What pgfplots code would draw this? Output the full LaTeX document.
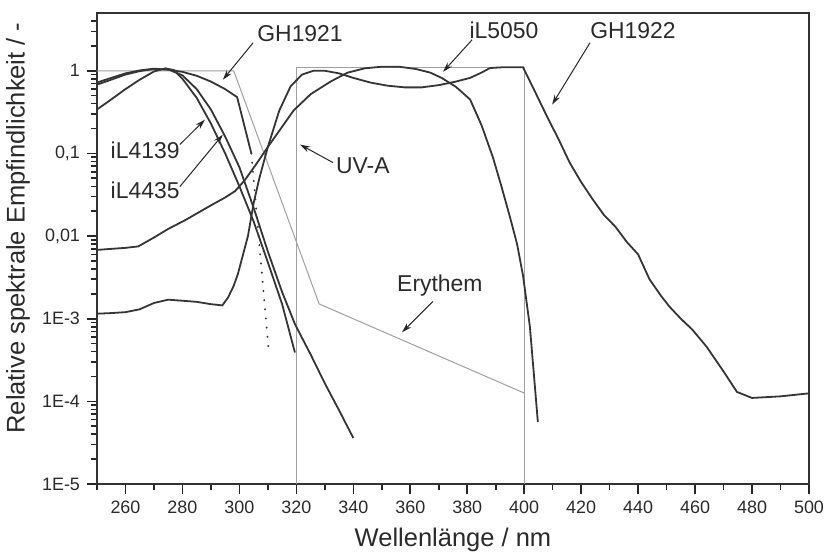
\documentclass[border=0pt]{standalone}
\usepackage{fontspec}
\setmainfont{Liberation Sans}
\usepackage{pgfplots}
\pgfplotsset{compat=1.18}
\usetikzlibrary{arrows.meta}
\definecolor{curve}{HTML}{353535}
\definecolor{lightline}{HTML}{A0A0A0}
\definecolor{txt}{HTML}{2A2A2A}
\begin{document}
\begin{tikzpicture}
\begin{axis}[
  at={(0,0)}, anchor=south west,
  scale only axis, width=356bp, height=235.5bp,
  xmin=250, xmax=500, ymode=log, ymin=1e-5, ymax=5,
  xtick={260,280,...,500}, minor xtick={250,270,...,490},
  ytick={1e-5,1e-4,1e-3,0.01,0.1,1},
  yticklabels={1E-5,1E-4,1E-3,{0,01},{0,1},1},
  minor ytick={2e-5,3e-5,4e-5,5e-5,6e-5,7e-5,8e-5,9e-5,
               2e-4,3e-4,4e-4,5e-4,6e-4,7e-4,8e-4,9e-4,
               2e-3,3e-3,4e-3,5e-3,6e-3,7e-3,8e-3,9e-3,
               0.02,0.03,0.04,0.05,0.06,0.07,0.08,0.09,
               0.2,0.3,0.4,0.5,0.6,0.7,0.8,0.9,2,3,4},
  tick align=outside, xtick pos=left, ytick pos=left,
  major tick length=5bp, minor tick length=3bp,
  tick style={black!85, line width=0.8bp},
  /pgf/number format/assume math mode=true,
  tick label style={font=\fontsize{9}{10}\selectfont, text=txt},
  axis line style={black!80, line width=0.6bp},
  xlabel={Wellenlänge / nm},
  ylabel={Relative spektrale Empfindlichkeit / -},
  every axis x label/.style={at={(axis description cs:0.5,-0.119)}, anchor=center, font=\fontsize{12.8}{14}\selectfont, text=txt},
  every axis y label/.style={at={(axis description cs:-0.111,0.5435)}, rotate=90, anchor=center, font=\fontsize{12.8}{14}\selectfont, text=txt},
]
% UV-A
\addplot[lightline, line width=0.5bp] coordinates {(320,1e-5) (320,1.1) (400,1.1) (400,1e-5)};
% Erythem
\addplot[lightline, line width=0.5bp] coordinates {(250,1) (298,1) (328,0.00151) (400,0.000126)};
% GH1921
\addplot[curve, line width=0.9bp] coordinates {
(250,0.72) (255,0.82) (260,0.93) (265,1.01) (270,1.06) (275,1.03) (280,0.97) (285,0.87) (290,0.74) (295,0.6) (299.2,0.48) (304.2,0.1)};
\addplot[curve, line width=1bp, line cap=round, dash pattern=on 0.1bp off 4.5bp] coordinates {(304.2,0.1) (310.4,3.7e-4)};
% iL4139 / iL4435
\addplot[curve, line width=0.9bp] coordinates {
(250,0.34) (255,0.45) (260,0.6) (265,0.78) (270,0.98) (274,1.07) (277,1.02) (280,0.8) (285,0.47) (290,0.23) (295,0.1) (300,0.04) (305,0.015) (310,0.0048) (315,0.0015) (319.5,3.9e-4)};
\addplot[curve, line width=0.9bp] coordinates {
(250,0.68) (255,0.78) (260,0.9) (265,0.99) (270,1.05) (275,1.04) (280,0.88) (285,0.6) (290,0.34) (295,0.16) (300,0.068) (305,0.022) (310,0.0065) (315,0.0021) (319.5,8.6e-4) (325,3.7e-4) (330,1.65e-4) (335,7.8e-5) (340,3.6e-5)};
% GH1922
\addplot[curve, line width=0.9bp] coordinates {
(250,1.15e-3) (255,1.17e-3) (260,1.2e-3) (265,1.3e-3) (270,1.55e-3) (275,1.7e-3) (280,1.65e-3) (285,1.6e-3) (290,1.5e-3) (294,1.45e-3) (296,1.8e-3) (298,2.5e-3) (299.5,3.5e-3) (301,5.5e-3) (303,0.01) (305,0.025) (307,0.05) (310,0.12) (314,0.33) (318,0.65) (322,0.9) (326,1.0) (330,1.0) (335,0.93) (340,0.82) (346,0.72) (352,0.66) (358,0.63) (364,0.63) (370,0.67) (376,0.74) (381,0.82) (385,0.95) (388,1.08) (392,1.1) (399.6,1.1) (404,0.54) (408,0.28) (412,0.15) (416,0.077) (420,0.045) (424,0.028) (428,0.018) (432,0.013) (436,0.0085) (440,0.006) (444,0.003) (448,0.0019) (451,0.0014) (455,1.0e-3) (459,7.4e-4) (464,4.6e-4) (470,2.3e-4) (474.7,1.3e-4) (480,1.1e-4) (490,1.15e-4) (500,1.25e-4)};
% iL5050
\addplot[curve, line width=0.9bp] coordinates {
(250,0.0068) (255,0.007) (260,0.0072) (264.5,0.0075) (270,0.0096) (275,0.0122) (281,0.0156) (286,0.0196) (290,0.0235) (295,0.0293) (298.5,0.035) (302,0.048) (306,0.075) (310,0.12) (315,0.21) (319,0.33) (325,0.52) (332,0.74) (338,0.95) (344,1.07) (350,1.12) (356,1.12) (362,1.05) (367,0.95) (371,0.82) (376,0.64) (381,0.45) (385,0.22) (389,0.09) (392,0.04) (395,0.017) (397.5,0.008) (399.6,0.0033) (402,8e-4) (404.8,5.6e-5)};
% annotations
\tikzset{lab/.style={font=\fontsize{11.5}{13}\selectfont, text=txt, inner sep=0pt},
         arr/.style={black!85, line width=0.5bp, -{Stealth[length=5bp,width=3bp]}}}
\node[lab] at (axis cs:321.3,2.8) {GH1921};
\draw[arr] (axis cs:304.8,2.18) -- (axis cs:294.2,0.78);
\node[lab] at (axis cs:392.9,3.13) {iL5050};
\draw[arr] (axis cs:381.7,2.37) -- (axis cs:371.5,0.97);
\node[lab] at (axis cs:438.2,3.04) {GH1922};
\draw[arr] (axis cs:423.1,2.18) -- (axis cs:409.8,0.39);
\node[lab] at (axis cs:266.9,0.108) {iL4139};
\draw[arr] (axis cs:279.1,0.128) -- (axis cs:287.9,0.256);
\node[lab] at (axis cs:266.9,0.0355) {iL4435};
\draw[arr] (axis cs:279.1,0.0397) -- (axis cs:294.2,0.169);
\node[lab, anchor=west] at (axis cs:333.8,0.0713) {UV-A};
\draw[arr] (axis cs:332.9,0.0774) -- (axis cs:321.3,0.128);
\node[lab] at (axis cs:370.4,0.00253) {Erythem};
\draw[arr] (axis cs:368,0.00162) -- (axis cs:357.1,6.85e-4);
\end{axis}
\pgfresetboundingbox
\path (-48.5bp,-37.5bp) rectangle (366bp,242bp);
\end{tikzpicture}
\end{document}
